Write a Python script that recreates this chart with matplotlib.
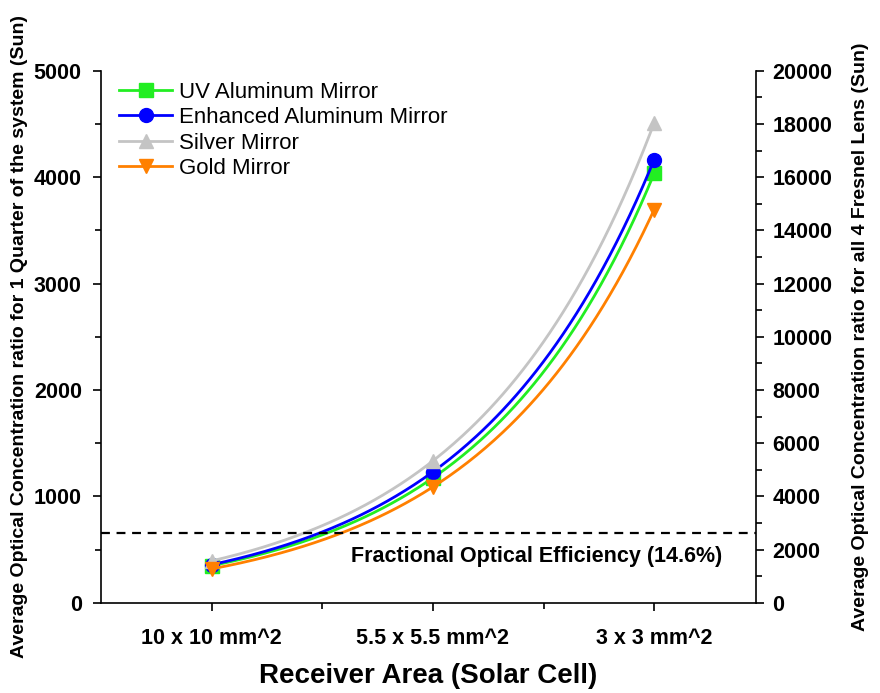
import numpy as np
import matplotlib.pyplot as plt
from matplotlib.ticker import MultipleLocator

plt.rcParams['font.family'] = ['Liberation Sans', 'DejaVu Sans']

# data
areas = ['10 x 10 mm^2', '5.5 x 5.5 mm^2', '3 x 3 mm^2']
uv_al = [350, 1175, 4035]
enh_al = [360, 1232, 4165]
silver = [395, 1335, 4510]
gold = [320, 1090, 3695]
efficiency_level = 655

series = [
    ('UV Aluminum Mirror', uv_al, '#22ee22', 's'),
    ('Enhanced Aluminum Mirror', enh_al, '#0000ff', 'o'),
    ('Silver Mirror', silver, '#c4c4c4', '^'),
    ('Gold Mirror', gold, '#ff8000', 'v'),
]

fig = plt.figure(figsize=(8.8, 6.93), dpi=100)
ax = fig.add_axes([0.115, 0.130, 0.744, 0.768])

x = np.arange(1, len(areas) + 1)
xs = np.linspace(1, len(areas), 200)
for label, vals, col, mk in series:
    # smooth line through the points (log-quadratic), markers on the data
    coef = np.polyfit(x, np.log(vals), 2)
    ax.plot(xs, np.exp(np.polyval(coef, xs)), color=col, lw=2)
    ax.plot(x, vals, ls='none', marker=mk, color=col, ms=10)
    ax.plot([], [], color=col, marker=mk, ms=10, lw=2, label=label)

ax.axhline(efficiency_level, color='black', ls='--', lw=1.6, dashes=(4, 3))
ax.text(2.47, 432, 'Fractional Optical Efficiency (14.6%)', ha='center', va='center',
        fontsize=15.5, fontweight='bold')

ax.set_xlim(0.5, 3.46)
ax.set_ylim(0, 5000)
ax.set_xticks(x)
ax.set_xticklabels(areas)
ax.set_xticks([1.5, 2.5], minor=True)
ax.yaxis.set_major_locator(MultipleLocator(1000))
ax.yaxis.set_minor_locator(MultipleLocator(500))
ax.spines['top'].set_visible(False)
ax.spines['right'].set_visible(False)
for s in ['left', 'bottom']:
    ax.spines[s].set_linewidth(1.2)
ax.tick_params(which='major', direction='out', length=6, width=1.2, labelsize=15.5, pad=8)
ax.tick_params(axis='x', which='major', pad=12)
ax.tick_params(which='minor', direction='out', length=4, width=1.2)
for t in ax.get_xticklabels() + ax.get_yticklabels():
    t.set_fontweight('bold')

ax.set_xlabel('Receiver Area (Solar Cell)', fontsize=20, fontweight='bold', labelpad=10)
ax.set_ylabel('Average Optical Concentration ratio for 1 Quarter of the system (Sun)',
              fontsize=14, fontweight='bold', labelpad=4)

ax2 = ax.twinx()
ax2.set_ylim(0, 20000)
ax2.yaxis.set_major_locator(MultipleLocator(2000))
ax2.yaxis.set_minor_locator(MultipleLocator(1000))
for s in ['top', 'left', 'bottom']:
    ax2.spines[s].set_visible(False)
ax2.spines['right'].set_linewidth(1.2)
ax2.tick_params(which='major', direction='out', length=6, width=1.2, labelsize=15.5, pad=6)
ax2.tick_params(which='minor', direction='out', length=4, width=1.2)
for t in ax2.get_yticklabels():
    t.set_fontweight('bold')
ax2.set_ylabel('Average Optical Concentration ratio for all 4 Fresnel Lens (Sun)',
               fontsize=14, fontweight='bold', labelpad=14)

ax.legend(loc='upper left', bbox_to_anchor=(0.01, 1.0), frameon=False, fontsize=16,
          handlelength=2.4, handletextpad=0.3, labelspacing=0.2, borderaxespad=0.1)

fig.savefig('out.png', dpi=100)
